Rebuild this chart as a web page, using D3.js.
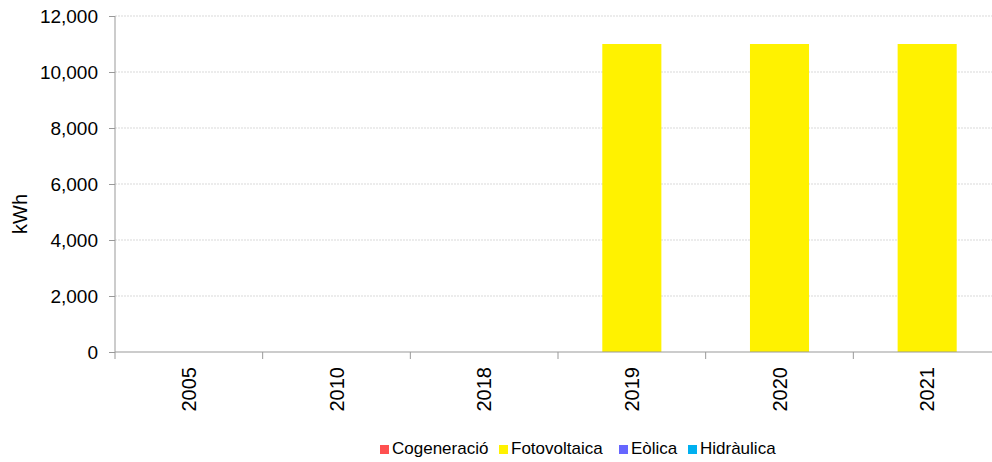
<!DOCTYPE html>
<html><head><meta charset="utf-8">
<script src="https://cdn.jsdelivr.net/npm/d3@7"></script>
<style>body{margin:0;background:#fff}svg{display:block}text{font-family:"Liberation Sans",Arial,sans-serif}</style>
</head><body>
<svg id="c" width="992" height="462"></svg>
<script>
const years = ["2005","2010","2018","2019","2020","2021"];
const seriesNames = ["Cogeneració","Fotovoltaica","Eòlica","Hidràulica"];
const cogeneracio = [0,0,0,0,0,0];
const fotovoltaica = [0,0,0,11000,11000,11000];
const eolica = [0,0,0,0,0,0];
const hidraulica = [0,0,0,0,0,0];
const colors = ["#ff5050","#fff200","#6666ff","#00b0f0"];
const yTicks = [0,2000,4000,6000,8000,10000,12000];

(function(){
const svg = d3.select("#c");
const pLeft=115, pRight=1001, pTop=16, pBottom=352;
const x = d3.scaleBand().domain(years).range([pLeft,pRight]).paddingInner(0).paddingOuter(0);
const y = d3.scaleLinear().domain([0,12000]).range([pBottom,pTop]);

const rows = years.map((yr,i)=>({year:yr,"Cogeneració":cogeneracio[i],"Fotovoltaica":fotovoltaica[i],"Eòlica":eolica[i],"Hidràulica":hidraulica[i]}));
const stack = d3.stack().keys(seriesNames)(rows);

svg.append("g").selectAll("line").data(yTicks.filter(d=>d>0)).join("line")
  .attr("x1",pLeft).attr("x2",pRight).attr("y1",d=>y(d)).attr("y2",d=>y(d))
  .attr("stroke","#d9d9d9").attr("stroke-dasharray","2,1");

const bw = x.bandwidth()*0.4;
svg.append("g").selectAll("g").data(stack).join("g").attr("fill",(d,i)=>colors[i])
  .selectAll("rect").data(d=>d).join("rect")
  .attr("x",d=>x(d.data.year)+(x.bandwidth()-bw)/2).attr("width",bw)
  .attr("y",d=>y(d[1])).attr("height",d=>y(d[0])-y(d[1]));

const ya = svg.append("g").attr("transform",`translate(${pLeft},0)`)
  .call(d3.axisLeft(y).tickValues(yTicks).tickFormat(d3.format(",")).tickSize(6).tickPadding(11));
ya.select(".domain").attr("stroke","#999").attr("d",`M0,${pTop}V${pBottom}`);
ya.selectAll(".tick line").attr("stroke","#999");
ya.selectAll("text").attr("font-size",19).attr("fill","#000").style("font-family","'Liberation Sans',Arial,sans-serif");

const xa = svg.append("g").attr("transform",`translate(0,${pBottom})`)
  .call(d3.axisBottom(x).tickSize(0).tickFormat(d=>d));
xa.select(".domain").attr("stroke","#999").attr("d",`M${pLeft},0H${pRight}`);
xa.selectAll(".tick text").attr("font-size",20).attr("fill","#000").style("font-family","'Liberation Sans',Arial,sans-serif")
  .attr("transform","rotate(-90)").attr("text-anchor","end").attr("x",-15).attr("y",0).attr("dy","0.35em");
svg.append("g").selectAll("line").data(years.map(d=>x(d)).concat([pRight])).join("line")
  .attr("x1",d=>d).attr("x2",d=>d).attr("y1",pBottom).attr("y2",pBottom+7).attr("stroke","#999");

svg.append("text").attr("transform","translate(27,214) rotate(-90)").attr("text-anchor","middle")
  .attr("font-size",20).attr("fill","#000").text("kWh");

const legendX = [380,499,619,688];
const lg = svg.append("g");
seriesNames.forEach((n,i)=>{
  lg.append("rect").attr("x",legendX[i]).attr("y",445).attr("width",9).attr("height",9).attr("fill",colors[i]);
  lg.append("text").attr("x",legendX[i]+12).attr("y",454).attr("font-size",17).attr("fill","#000").text(n);
});
})();
</script>
</body></html>
